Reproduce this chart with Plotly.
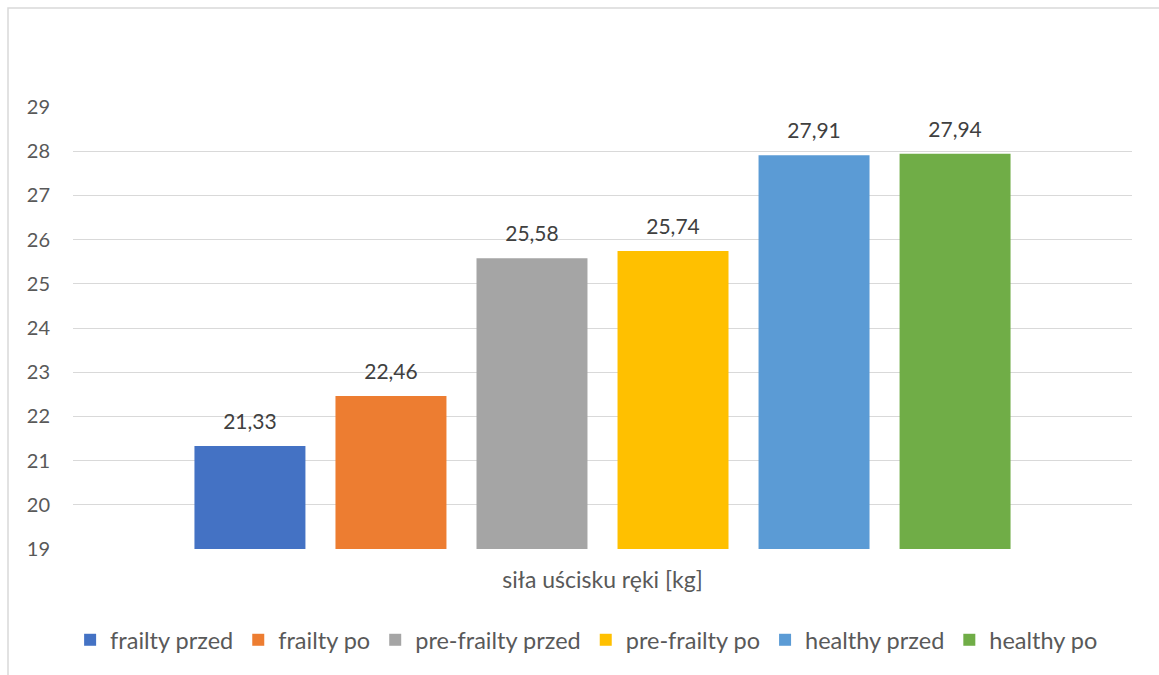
import plotly.graph_objects as go

category = ["siła uścisku ręki [kg]"]
series_names = ["frailty przed", "frailty po", "pre-frailty przed",
                "pre-frailty po", "healthy przed", "healthy po"]
series_values = [21.33, 22.46, 25.58, 25.74, 27.91, 27.94]
series_colors = ["#4472C4", "#ED7D31", "#A5A5A5", "#FFC000", "#5B9BD5", "#70AD47"]
y_ticks = list(range(19, 30))

FONT = "Lato, 'Open Sans', sans-serif"
TXT = "#595959"

fig = go.Figure()
for name, val, col in zip(series_names, series_values, series_colors):
    fig.add_trace(go.Bar(
        x=category, y=[val], name=name,
        marker=dict(color=col, line=dict(width=0)),
        # short blank second line lifts the value label off the bar top
        texttemplate="<span style='font-size:21px'>%{y:.2f}</span><br> ",
        textposition="outside",
        textfont=dict(size=9, color="#404040", family=FONT),
        cliponaxis=False,
    ))

W, H = 1159, 675
L, R, T, B = 73, 27, 107, 126
pw, ph = W - L - R, H - T - B

fig.update_layout(
    width=W, height=H,
    margin=dict(l=L, r=R, t=T, b=B),
    paper_bgcolor="white", plot_bgcolor="white",
    separators=", ",
    barmode="group", bargap=0.201, bargroupgap=0.213,
    font=dict(family=FONT, color=TXT, size=16),
    showlegend=True,
    legend=dict(orientation="h", x=0.485, xanchor="center",
                y=-91 / ph, yanchor="middle",
                font=dict(size=23.5, color=TXT, family=FONT),
                itemsizing="constant", traceorder="normal"),
    xaxis=dict(showgrid=False, showline=False, ticks="outside", ticklen=0,
               tickcolor="rgba(0,0,0,0)",
               tickfont=dict(size=23, color=TXT, family=FONT),
               ticklabelstandoff=10, fixedrange=True),
    yaxis=dict(range=[19, 29], tickvals=y_ticks, showgrid=True,
               gridcolor="#D9D9D9", gridwidth=1, zeroline=False,
               showline=False, ticks="",
               tickfont=dict(size=20, color=TXT, family=FONT),
               ticklabelstandoff=22, fixedrange=True),
    shapes=[dict(type="rect", xref="paper", yref="paper",
                 x0=(8 - L) / pw, x1=(W + 20 - L) / pw,
                 y0=(H - B - (H + 20)) / ph, y1=(H - B - 8) / ph,
                 line=dict(color="#D9D9D9", width=1.5),
                 fillcolor="rgba(0,0,0,0)", layer="below")],
)

fig.write_html("out.html")
